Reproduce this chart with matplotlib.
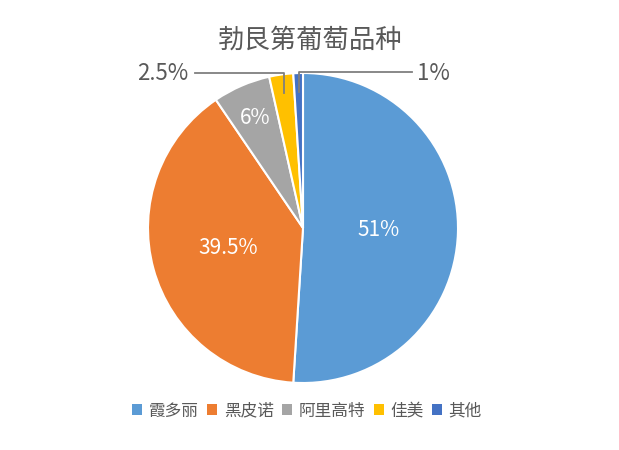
import matplotlib
matplotlib.use("Agg")
import matplotlib.pyplot as plt
import numpy as np

plt.rcParams['font.family'] = ['Noto Sans CJK SC', 'DejaVu Sans']

title = "勃艮第葡萄品种"
categories = ["霞多丽", "黑皮诺", "阿里高特", "佳美", "其他"]
values = [51, 39.5, 6, 2.5, 1]
labels = ["51%", "39.5%", "6%", "2.5%", "1%"]
colors = ["#5B9BD5", "#ED7D31", "#A5A5A5", "#FFC000", "#4472C4"]

W, H = 619, 450
fig = plt.figure(figsize=(W / 100, H / 100), dpi=100)
cx, cy, R = 303, 228, 155
ax = fig.add_axes([(cx - R) / W, (H - cy - R) / H, 2 * R / W, 2 * R / H])

wedges, _ = ax.pie(values, colors=colors, startangle=90, counterclock=False,
                   wedgeprops=dict(edgecolor="white", linewidth=1.5), radius=1)
ax.set_xlim(-1, 1)
ax.set_ylim(-1, 1)
ax.set_aspect('equal')

def px(x, y):
    return ((x - cx) / R, (cy - y) / R)

def mid(w, r):
    a = np.deg2rad((w.theta1 + w.theta2) / 2)
    return r * np.cos(a), r * np.sin(a)

# inside labels
inside = {0: 0.49, 1: 0.50, 2: 0.775}
for i, r in inside.items():
    x, y = mid(wedges[i], r)
    ax.text(x, y, labels[i], ha='center', va='center', color='white', fontsize=15)

gray = "#7f7f7f"
# 2.5% label
x3, y3 = mid(wedges[3], 0.88)
ly = px(0, 73)[1]
ax.plot([px(195, 0)[0], x3, x3], [ly, ly, y3], color=gray, lw=1.3, clip_on=False)
tx, ty = px(188, 74)
ax.text(tx, ty, labels[3], ha='right', va='center', color='#595959', fontsize=16)

# 1% label
x4, y4 = mid(wedges[4], 0.88)
ly2 = px(0, 72)[1]
ax.plot([x4, x4, px(412, 0)[0]], [y4, ly2, ly2], color=gray, lw=1.3, clip_on=False)
tx, ty = px(417, 73)
ax.text(tx, ty, labels[4], ha='left', va='center', color='#595959', fontsize=16)

fig.text(310 / W, 1 - 40 / H, title, ha='center', va='center', fontsize=19, color='#595959')

leg = fig.legend(wedges, categories, loc='center', bbox_to_anchor=(307 / W, 1 - 411 / H),
                 ncol=5, frameon=False, fontsize=12, handlelength=0.6, handleheight=0.6,
                 handletextpad=0.4, columnspacing=0.5, labelcolor='#595959')
for h in leg.legend_handles:
    h.set_edgecolor('none')

fig.savefig("out.png", dpi=100, facecolor='white')
